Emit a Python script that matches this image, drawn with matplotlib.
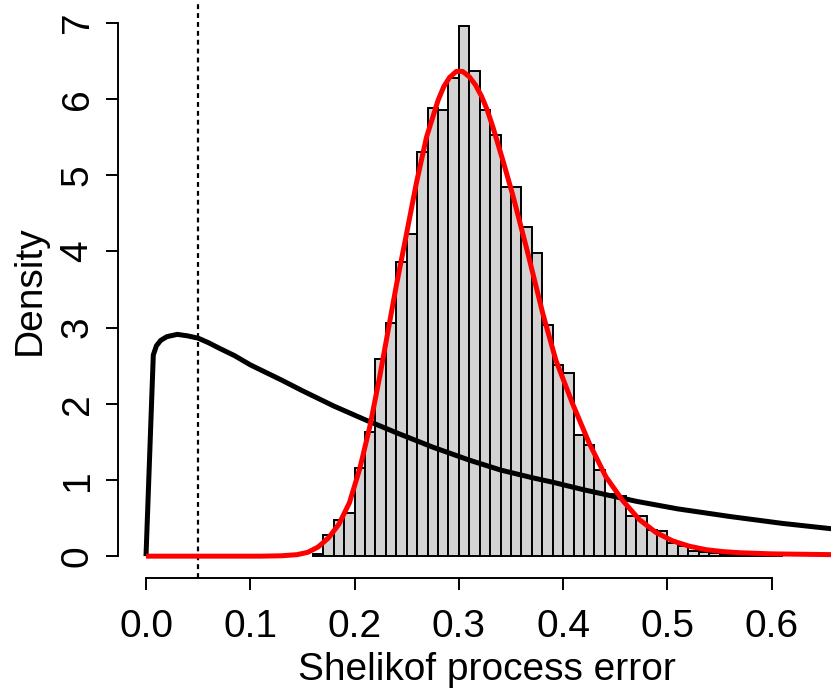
import numpy as np
import matplotlib
matplotlib.use("Agg")
import matplotlib.pyplot as plt

plt.rcParams['font.family'] = ['Liberation Sans', 'DejaVu Sans']

# Histogram (density) of posterior samples, bin width 0.01 starting at 0.16
bin_left = [round(0.16 + 0.01 * i, 2) for i in range(45)]
bin_height = [0.03, 0.28, 0.47, 0.57, 1.16, 1.63, 2.59, 3.06,
              3.86, 4.23, 5.30, 5.88, 5.85, 6.28, 6.95, 6.36, 5.86, 5.53,
              4.85, 4.85, 4.32, 3.98,
              3.03, 2.51, 2.40, 1.59, 1.46, 1.13, 0.82, 0.79, 0.53, 0.53,
              0.34, 0.33, 0.17, 0.13,
              0.07, 0.05, 0.04, 0.03, 0.02, 0.02, 0.01, 0.01, 0.01]

# Prior density (black curve)
prior_x = [0.0, 0.007, 0.01, 0.014, 0.02, 0.03, 0.04, 0.05, 0.06, 0.07,
           0.085, 0.10, 0.115, 0.13, 0.15, 0.18, 0.21, 0.24, 0.275, 0.31,
           0.34, 0.37, 0.39, 0.42, 0.47, 0.51, 0.56, 0.61, 0.657]
prior_y = [0.0, 2.64, 2.76, 2.83, 2.88, 2.91, 2.89, 2.86, 2.80, 2.73,
           2.63, 2.51, 2.41, 2.31, 2.17, 1.97, 1.79, 1.62, 1.43, 1.26,
           1.13, 1.03, 0.97, 0.87, 0.72, 0.62, 0.52, 0.43, 0.36]

# Fitted posterior density (red curve)
post_x = [0.0, 0.11, 0.13, 0.145, 0.155, 0.165, 0.175, 0.185, 0.195, 0.205,
          0.2146, 0.224, 0.232, 0.240, 0.2498, 0.2593, 0.269, 0.280, 0.2855,
          0.291, 0.2975, 0.3035, 0.310, 0.316, 0.3215, 0.327, 0.3326, 0.342,
          0.352, 0.366, 0.3805, 0.393, 0.409, 0.425, 0.441, 0.457, 0.473,
          0.489, 0.505, 0.521, 0.537, 0.553, 0.569, 0.60, 0.657]
post_y = [0.0, 0.0, 0.005, 0.02, 0.05, 0.12, 0.24, 0.42, 0.70, 1.15,
          1.70, 2.35, 2.95, 3.55, 4.23, 4.90, 5.50, 5.98, 6.16,
          6.28, 6.36, 6.36, 6.29, 6.18, 6.04, 5.86, 5.63, 5.20,
          4.72, 3.98, 3.18, 2.57, 2.00, 1.48, 1.04, 0.73, 0.48,
          0.31, 0.20, 0.13, 0.085, 0.06, 0.045, 0.03, 0.02]

ref_line_x = 0.05
x_ticks = [0.0, 0.1, 0.2, 0.3, 0.4, 0.5, 0.6]
x_tick_labels = ["0.0", "0.1", "0.2", "0.3", "0.4", "0.5", "0.6"]
y_ticks = [0, 1, 2, 3, 4, 5, 6, 7]

W, H = 831, 690
fig = plt.figure(figsize=(W / 100, H / 100), dpi=100)
left_px, right_px, top_px, bottom_px = 118.3, 831.0, 1.3, 577.5
ax = fig.add_axes([left_px / W, 1 - bottom_px / H,
                   (right_px - left_px) / W, (bottom_px - top_px) / H])

ax.bar(bin_left, bin_height, width=0.01, align='edge', color='#d3d3d3',
       edgecolor='black', linewidth=1.4, zorder=2)
ax.axvline(ref_line_x, color='black', linewidth=1.6,
           linestyle=(0, (2.2, 1.8)), zorder=1)
ax.plot(prior_x, prior_y, color='black', linewidth=3.6, zorder=3,
        solid_joinstyle='round', solid_capstyle='butt')
ax.plot(post_x, post_y, color='#ff0000', linewidth=3.6, zorder=4,
        solid_joinstyle='round', solid_capstyle='butt')

ax.set_xlim(-0.02656, 0.65676)
ax.set_ylim(-0.28, 7.28)

for s in ['top', 'right']:
    ax.spines[s].set_visible(False)
ax.spines['left'].set_bounds(0, 7)
ax.spines['bottom'].set_bounds(0, 0.6)
for s in ['left', 'bottom']:
    ax.spines[s].set_linewidth(1.4)

ax.set_xticks(x_ticks)
ax.set_xticklabels(x_tick_labels)
ax.set_yticks(y_ticks)
ax.set_yticklabels([str(v) for v in y_ticks], rotation=90, va='center')
ax.tick_params(axis='both', direction='out', length=8.4, width=1.4,
               labelsize=28)
ax.tick_params(axis='x', pad=14)
ax.tick_params(axis='y', pad=8)

ax.text(30 / W, 1 - 290 / H, "Density", transform=fig.transFigure,
        rotation=90, ha='center', va='center', fontsize=28)
ax.text(487 / W, 1 - 680 / H, "Shelikof process error",
        transform=fig.transFigure, ha='center', va='baseline', fontsize=28)

fig.savefig("out.png", dpi=100)
